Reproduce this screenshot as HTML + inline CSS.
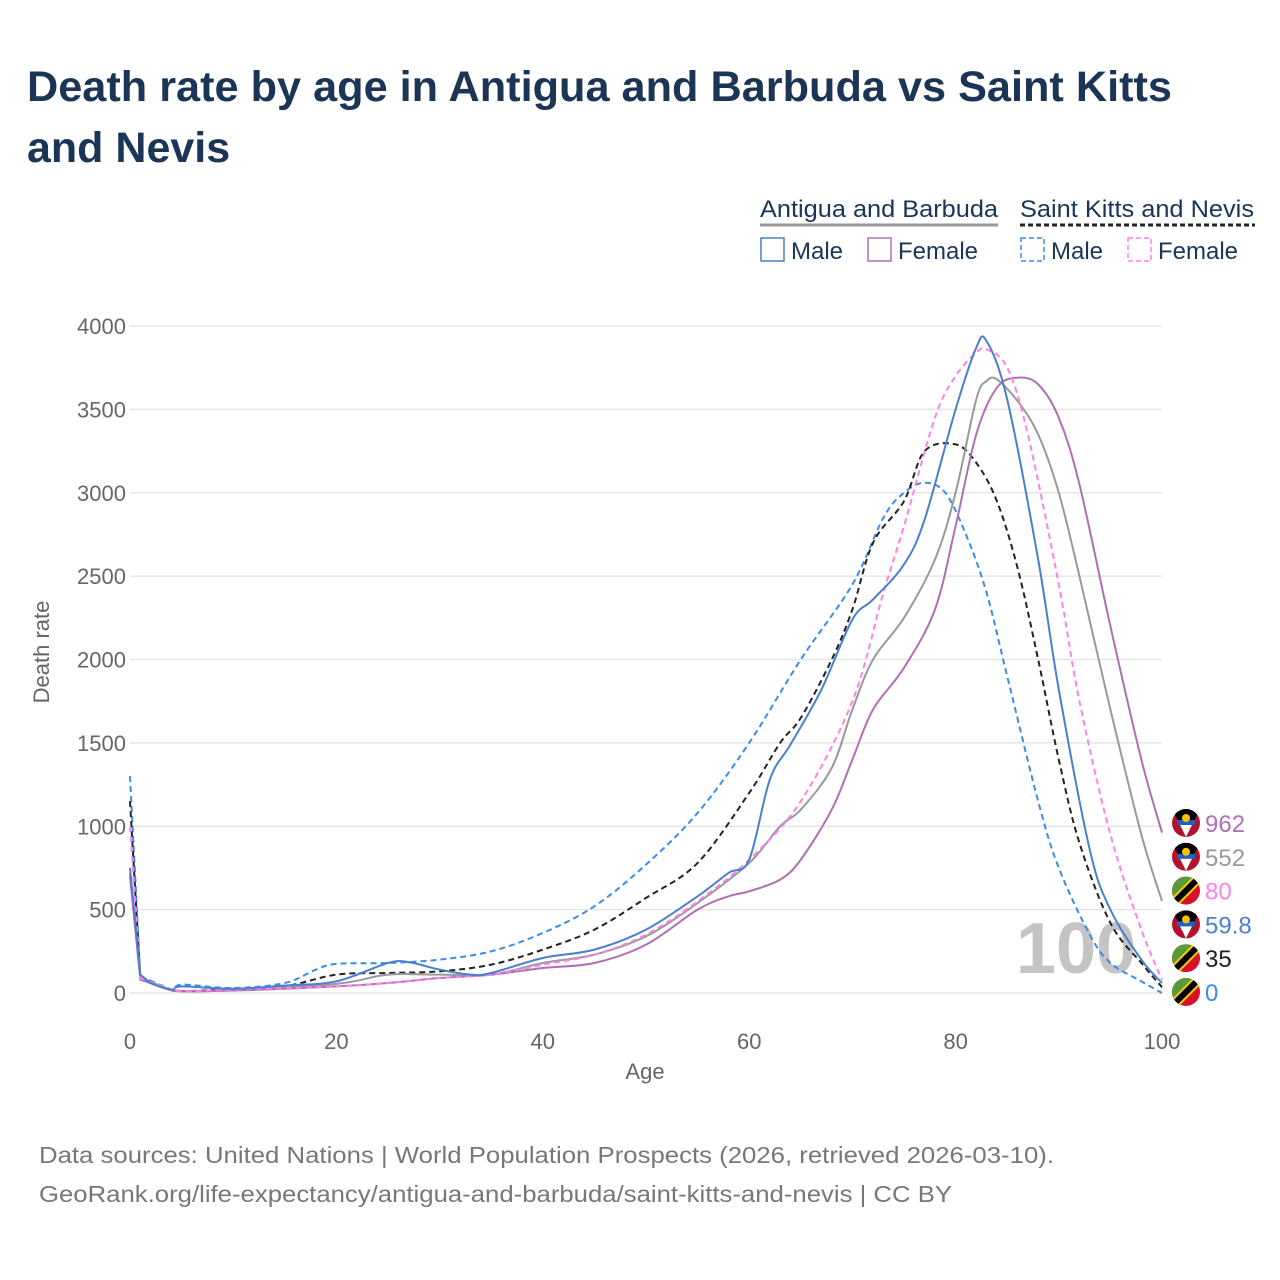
<!DOCTYPE html>
<html><head><meta charset="utf-8">
<style>
body{margin:0;background:#fff;font-family:"Liberation Sans",sans-serif;}
#wrap{position:relative;width:1280px;height:1280px;overflow:hidden;}
</style></head>
<body><div id="wrap">
<svg id="c" width="1280" height="1280" xmlns="http://www.w3.org/2000/svg">
<text x="27" y="101" font-size="43" font-weight="bold" fill="#1b3557" textLength="1145" lengthAdjust="spacingAndGlyphs">Death rate by age in Antigua and Barbuda vs Saint Kitts</text>
<text x="27" y="162" font-size="43" font-weight="bold" fill="#1b3557">and Nevis</text>
<g id="legend">
<text x="760" y="217" font-size="24" fill="#1b3557" textLength="238" lengthAdjust="spacingAndGlyphs">Antigua and Barbuda</text>
<line x1="760" y1="225" x2="998" y2="225" stroke="#999" stroke-width="3"/>
<text x="1020" y="217" font-size="24" fill="#1b3557" textLength="234" lengthAdjust="spacingAndGlyphs">Saint Kitts and Nevis</text>
<line x1="1020" y1="225" x2="1255" y2="225" stroke="#222" stroke-width="3" stroke-dasharray="5,3"/>
<rect x="761" y="238" width="23" height="23" fill="none" stroke="#4a7fd0" stroke-width="1.5"/>
<text x="791" y="259" font-size="24" fill="#1b3557">Male</text>
<rect x="868" y="238" width="23" height="23" fill="none" stroke="#b06fb5" stroke-width="1.5"/>
<text x="898" y="259" font-size="24" fill="#1b3557">Female</text>
<rect x="1021" y="238" width="23" height="23" fill="none" stroke="#3b8beb" stroke-width="1.5" stroke-dasharray="5,3"/>
<text x="1051" y="259" font-size="24" fill="#1b3557">Male</text>
<rect x="1128" y="238" width="23" height="23" fill="none" stroke="#ff80e8" stroke-width="1.5" stroke-dasharray="5,3"/>
<text x="1158" y="259" font-size="24" fill="#1b3557">Female</text>
</g>
<g id="grid"></g>
<text x="1076" y="973" font-size="72" font-weight="bold" fill="#c4c4c4" text-anchor="middle">100</text>
<g id="series"></g>
<g id="labels"></g>
<text x="645" y="1079" font-size="22" fill="#666" text-anchor="middle">Age</text>
<text x="0" y="0" font-size="22" fill="#666" text-anchor="middle" transform="translate(49,652) rotate(-90)">Death rate</text>
<text x="39" y="1163" font-size="23" fill="#777" textLength="1015" lengthAdjust="spacingAndGlyphs">Data sources: United Nations | World Population Prospects (2026, retrieved 2026-03-10).</text>
<text x="39" y="1202" font-size="23" fill="#777" textLength="913" lengthAdjust="spacingAndGlyphs">GeoRank.org/life-expectancy/antigua-and-barbuda/saint-kitts-and-nevis | CC BY</text>
</svg></div>
<script>
const yTicks=[0,500,1000,1500,2000,2500,3000,3500,4000];
const xTicks=[0,20,40,60,80,100];
const agAges=[0,1,2,4,5,10,15,20,25,27,30,33,35,40,45,50,55,58,60,62,64,67,70,72,75,77,80,82,83,85,88,90,93,95,98,100];
const agMale=[750,110,60,20,40,25,45,70,180,185,140,110,120,210,260,380,580,720,800,1280,1490,1820,2240,2360,2570,2840,3500,3870,3910,3560,2600,1820,860,500,200,59.8];
const fAges=[0,1,4,10,20,25,30,35,40,45,50,55,58,60,63,65,68,70,72,75,78,80,82,84,86,88,90,92,95,98,100];
const agFemale=[700,80,15,15,40,60,90,110,150,180,290,500,580,610,680,800,1100,1400,1700,1950,2300,2800,3350,3630,3690,3650,3450,3050,2200,1400,962];
const tAges=[0,1,4,10,20,25,30,35,40,45,50,55,60,63,65,68,70,72,75,78,80,82,83,84,86,88,90,92,95,98,100];
const agTotal=[720,90,18,20,55,110,110,110,180,230,340,540,780,1000,1100,1350,1700,2000,2250,2600,3000,3560,3670,3680,3550,3350,3000,2500,1700,950,552];
const smAges=[0,1,4,5,10,15,18,20,25,30,35,40,45,50,55,60,65,70,73,75,77,79,81,83,85,88,90,93,95,98,100];
const sknMale=[1300,100,20,50,30,60,140,175,180,200,250,360,520,770,1080,1500,2000,2450,2850,3000,3060,3000,2750,2400,1900,1150,750,350,180,70,0];
const sfAges=[0,1,4,10,20,25,30,35,40,45,50,55,60,65,70,73,75,78,80,82,83,85,87,90,92,95,98,100];
const sknFemale=[1000,90,15,20,40,60,90,110,170,230,350,550,800,1150,1750,2400,2800,3450,3700,3840,3860,3750,3350,2450,1750,950,380,80];
const stAges=[0,1,4,10,15,20,25,30,35,40,45,50,55,60,63,65,68,70,72,75,77,80,82,84,86,88,90,92,95,98,100];
const sknTotal=[1150,90,15,25,40,110,120,130,170,260,380,570,780,1200,1500,1650,2000,2300,2700,2950,3250,3290,3180,2950,2550,2000,1400,900,420,180,35];
const endLabels=["962","552","80","59.8","35","0"];

const X=a=>130+a*10.32, Y=v=>993-v*0.16675;
const NS="http://www.w3.org/2000/svg";
function mk(t,at,p){const e=document.createElementNS(NS,t);for(const k in at)e.setAttribute(k,at[k]);p.appendChild(e);return e;}
const grid=document.getElementById('grid');
yTicks.forEach(v=>{
 const l=mk('line',{x1:130,x2:1162,y1:Y(v),y2:Y(v),stroke:'#e6e6e6','stroke-width':1.5},grid);
 
 
 const t=mk('text',{x:126,y:Y(v)+8,'font-size':22,fill:'#666','text-anchor':'end'},grid);t.textContent=v;
 
 
});
xTicks.forEach(v=>{
 const t=mk('text',{x:X(v),y:1049,'font-size':22,fill:'#666','text-anchor':'middle'},grid);t.textContent=v;
 
 
});
function path(ages,vals){
 const p=ages.map((a,i)=>[X(a),Y(vals[i])]);
 let d='M'+p[0][0]+','+p[0][1];
 for(let i=0;i<p.length-1;i++){
  const p0=p[Math.max(0,i-1)],p1=p[i],p2=p[i+1],p3=p[Math.min(p.length-1,i+2)];
  const t=i<2?0:1/6;
  d+=' C'+(p1[0]+(p2[0]-p0[0])*t)+','+(p1[1]+(p2[1]-p0[1])*t)+' '+(p2[0]-(p3[0]-p1[0])*t)+','+(p2[1]-(p3[1]-p1[1])*t)+' '+p2[0]+','+p2[1];
 }
 return d;
}
const sg=document.getElementById('series');
const defs=[
 [sknMale,smAges,'#3b8beb','6,4','series-skn-male'],
 [sknTotal,stAges,'#222','6,4','series-skn-total'],
 [agTotal,tAges,'#999','','series-antigua-total'],
 [agFemale,fAges,'#b06fb5','','series-antigua-female'],
 [sknFemale,sfAges,'#ff80e8','6,4','series-skn-female'],
 [agMale,agAges,'#4a7fd0','','series-antigua-male']];
defs.forEach(s=>{
 const e=mk('path',{d:path(s[1],s[0]),fill:'none',stroke:s[2],'stroke-width':2,'stroke-dasharray':s[3]||'none'},sg);
 
 
});
const lg=document.getElementById('labels');
const labCols=['#b06fb5','#999','#ff80e8','#4a7fd0','#222','#3b8beb'];
const flags=['ag','ag','kn','ag','kn','kn'];
endLabels.forEach((s,i)=>{
 const y=823+i*33.8;
 const cx=1186;
 const g=mk('g',{},lg);
 
 
 mk('clipPath',{id:'cf'+i},g).appendChild(document.createElementNS(NS,'circle')).setAttribute('cx',cx);
 const cc=g.querySelector('clipPath circle');cc.setAttribute('cy',y);cc.setAttribute('r',14);
 const cg=mk('g',{'clip-path':'url(#cf'+i+')'},g);
 if(flags[i]=='ag'){
  mk('rect',{x:cx-14,y:y-14,width:28,height:28,fill:'#b3122e'},cg);
  mk('polygon',{points:`${cx-14},${y-14} ${cx+14},${y-14} ${cx},${y+14}`,fill:'#000'},cg);
  mk('polygon',{points:`${cx-8},${y-2} ${cx+8},${y-2} ${cx},${y+14}`,fill:'#fff'},cg);
  mk('rect',{x:cx-9,y:y-3,width:18,height:5,fill:'#2060c0'},cg);
  mk('circle',{cx:cx,cy:y-5,r:4,fill:'#f5c400'},cg);
 } else {
  mk('rect',{x:cx-14,y:y-14,width:28,height:28,fill:'#d8102a'},cg);
  mk('polygon',{points:`${cx-14},${y-14} ${cx+14},${y-14} ${cx-14},${y+14}`,fill:'#5a9a3a'},cg);
  mk('line',{x1:cx-16,y1:y+16,x2:cx+16,y2:y-16,stroke:'#f5d000','stroke-width':10},cg);
  mk('line',{x1:cx-16,y1:y+16,x2:cx+16,y2:y-16,stroke:'#000','stroke-width':6},cg);
 }
 const t=mk('text',{x:1205,y:y+9,'font-size':24,fill:labCols[i]},lg);t.textContent=s;
 
 
});
</script>
</body></html>
